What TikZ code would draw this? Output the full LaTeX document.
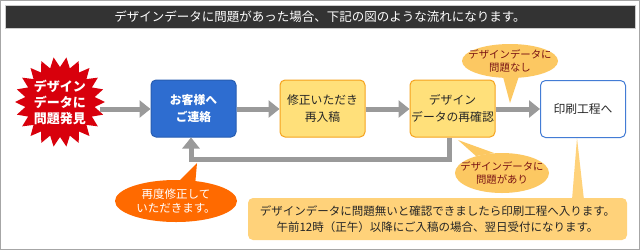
\documentclass[tikz,border=0pt]{standalone}
\usepackage{fontspec}
\setmainfont{Noto Sans CJK JP}
\usetikzlibrary{arrows.meta,shapes.geometric}
\definecolor{titlebg}{HTML}{333333}
\definecolor{flowgray}{HTML}{9A9A9A}
\definecolor{boxblue}{HTML}{2E6DD0}
\definecolor{boxyellow}{HTML}{FFE07A}
\definecolor{boxorange}{HTML}{F5A21E}
\definecolor{bubblelight}{HTML}{FCC862}
\definecolor{bubbletext}{HTML}{7A1414}
\definecolor{bubbleorange}{HTML}{FF6A00}
\definecolor{notefill}{HTML}{FFD27A}
\definecolor{burstred}{HTML}{D8000C}
\tikzset{
  flowbox/.style={rounded corners=5pt, minimum width=85pt, minimum height=57pt, inner sep=0pt, align=center, font=\fontsize{11.8}{17}\selectfont, line width=1pt},
  yellowbox/.style={flowbox, fill=boxyellow, draw=boxorange, text=black!85},
  flowarrow/.style={draw=flowgray, line width=5pt, -{Triangle[length=11pt,width=17pt]}},
  bubbletxt/.style={align=center, font=\fontsize{10.4}{13.5}\selectfont},
}
\begin{document}
\begin{tikzpicture}[x=1pt,y=-1pt]
\useasboundingbox (0,0) rectangle (640,250);
\fill[white] (0,0) rectangle (640,250);
\draw[gray!70, line width=1pt] (0.5,0.5) rectangle (639.5,249.5);
% title
\node[fill=titlebg, draw=gray!40, line width=0.6pt, minimum width=630pt, minimum height=23pt, inner sep=0pt, text=white, font=\fontsize{12.5}{14}\selectfont] (title) at (320,17) {デザインデータに問題があった場合、下記の図のような流れになります。};
% starburst
\fill[burstred] (105,102) \foreach \i in {1,...,43}{ -- ({60+ifthenelse(isodd(\i),35,45)*cos(\i*360/44)},{102+ifthenelse(isodd(\i),35,45)*sin(\i*360/44)}) } -- cycle;
\node[align=center, text=white, font=\bfseries\fontsize{13}{16}\selectfont] (burst) at (60,102) {デザイン\\データに\\問題発見};
\coordinate (burstout) at (100,109);
% boxes
\node[flowbox, fill=boxblue, draw=boxblue!85!black, text=white, font=\bfseries\fontsize{11.8}{17}\selectfont] (contact) at (193.5,108.5) {お客様へ\\ご連絡};
\node[yellowbox] (resubmit) at (322.5,108.5) {修正いただき\\再入稿};
\node[yellowbox] (recheck) at (452.5,108.5) {デザイン\\データの再確認};
\node[flowbox, fill=white, draw=boxblue!90, text=black!85] (print) at (583,109) {印刷工程へ};
% arrows
\draw[flowarrow] (burstout) -- (contact.west |- burstout);
\draw[flowarrow] (contact.east |- burstout) -- (resubmit.west |- burstout);
\draw[flowarrow] (resubmit.east |- burstout) -- (recheck.west |- burstout);
\draw[flowarrow] (recheck.east |- burstout) -- (print.west |- burstout);
\coordinate (loopR) at (449,159);
\coordinate (loopL) at (191,159);
\draw[flowarrow] (recheck.south -| loopR) -- (loopR) -- (loopL) -- (contact.south -| loopL);
% bubble: no problem
\fill[bubblelight] (502,73) -- (520,73) -- (510,103) -- cycle;
\node[ellipse, fill=bubblelight, minimum width=96pt, minimum height=34pt, inner sep=0pt] (okbub) at (510,61) {};
\node[bubbletxt, text=bubbletext] (oktext) at (okbub.center) {デザインデータに\\問題なし};
% bubble: has problem
\fill[bubblelight] (458,140) -- (476,156) -- (494,153) -- cycle;
\node[ellipse, fill=bubblelight, minimum width=94pt, minimum height=40pt, inner sep=0pt] (ngbub) at (502,173) {};
\node[bubbletxt, text=bubbletext] (ngtext) at (ngbub.center) {デザインデータに\\問題があり};
% bubble: re-correct
\fill[bubbleorange] (197,163) -- (175,185) -- (195,186) -- cycle;
\node[ellipse, fill=bubbleorange, minimum width=122pt, minimum height=42pt, inner sep=0pt] (rebub) at (176,201) {};
\node[bubbletxt, text=white, font=\fontsize{11.5}{14.5}\selectfont] (retext) at (rebub.center) {再度修正して\\いただきます。};
% note
\fill[notefill] (572,200) -- (577,138) -- (584,200) -- cycle;
\node[fill=notefill, rounded corners=5pt, minimum width=379pt, minimum height=42pt, inner sep=0pt, align=center, text=black!85, font=\fontsize{11.5}{16}\selectfont] (note) at (437.5,219) {デザインデータに問題無いと確認できましたら印刷工程へ入ります。\\午前12時（正午）以降にご入稿の場合、翌日受付になります。};
\end{tikzpicture}
\end{document}
